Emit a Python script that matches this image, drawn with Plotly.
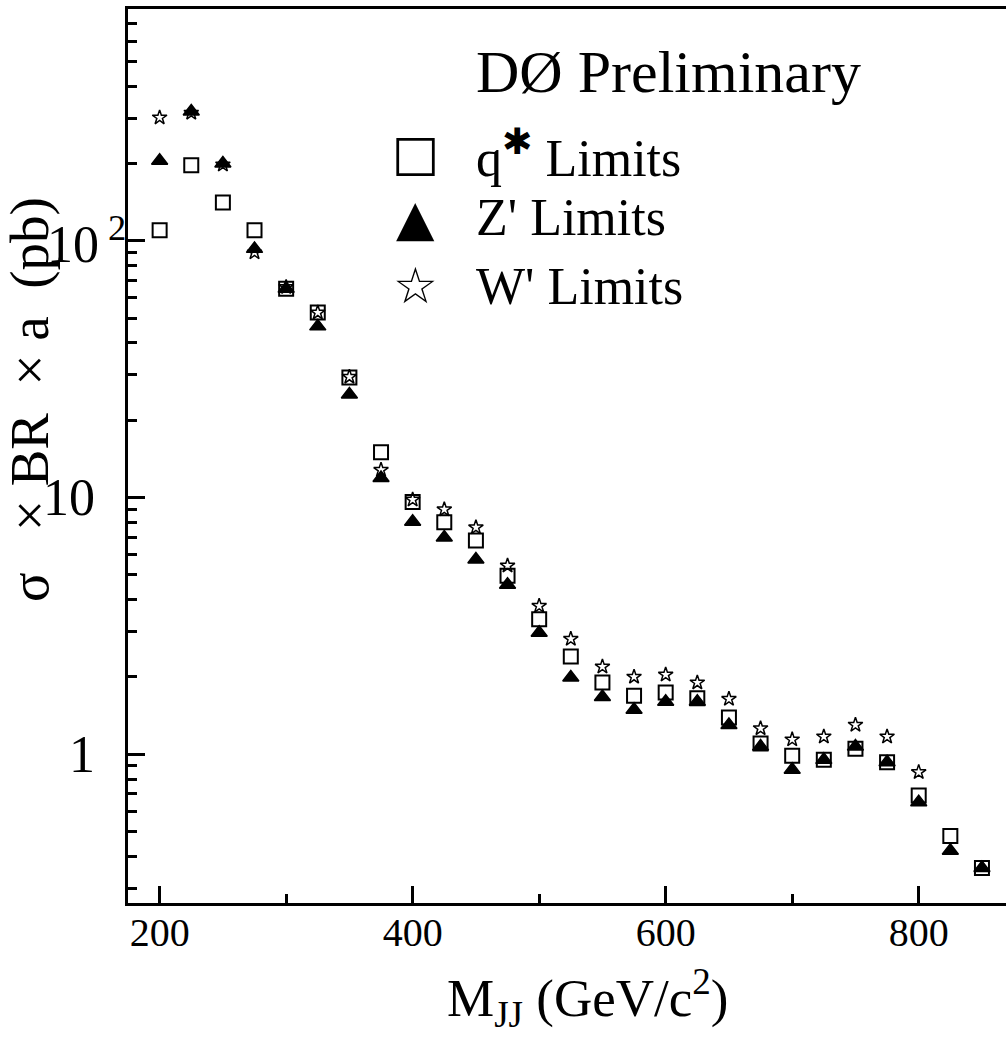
import math
import plotly.graph_objects as go

# Dijet invariant mass points (GeV/c^2)
mass = [200, 225, 250, 275, 300, 325, 350, 375, 400, 425, 450, 475, 500, 525,
        550, 575, 600, 625, 650, 675, 700, 725, 750, 775, 800, 825, 850]

# 95% CL limits on sigma x BR x acceptance (pb)
qstar_limits = [110, 197, 141, 110, 65, 52.5, 29.3, 15.0, 9.6, 8.0, 6.8, 4.95,
                3.35, 2.4, 1.9, 1.69, 1.74, 1.65, 1.39, 1.1, 0.985, 0.95, 1.05,
                0.93, 0.69, 0.48, 0.36]
zprime_limits = [205, 319, 200, 93, 65, 46.4, 25.2, 11.9, 8.05, 6.98, 5.73, 4.57,
                 2.97, 1.99, 1.67, 1.49, 1.6, 1.6, 1.3, 1.07, 0.87, 0.95, 1.07,
                 0.93, 0.65, 0.42, 0.36]
wprime_mass = mass[:25]
wprime_limits = [302, 315, 198, 90, 66, 52.5, 29.5, 12.8, 9.8, 8.98, 7.64, 5.42,
                 3.78, 2.81, 2.19, 2.0, 2.04, 1.9, 1.64, 1.26, 1.14, 1.17, 1.3,
                 1.17, 0.85]

y_major = [1, 10, 100]
y_major_text = ["1", "10", "10<sup>\u00A02</sup>"]
y_minor = [0.3, 0.4, 0.5, 0.6, 0.7, 0.8, 0.9,
           2, 3, 4, 5, 6, 7, 8, 9,
           20, 30, 40, 50, 60, 70, 80, 90,
           200, 300, 400, 500, 600, 700, 800]
x_major = [200, 400, 600, 800]
x_minor = [300, 500, 700]

STAR_SUP = "<sup><span style='font-family:DejaVu Sans'>\u2731</span></sup>"
legend_rows = [("\u25A1", "q" + STAR_SUP + " Limits"),
               ("\u25B2", "Z' Limits"),
               ("\u2606", "W' Limits")]

NB = "\u00A0"
y_title = ("\u03C3" + NB * 3 + "\u00D7" + NB + "BR" + NB * 2 + "\u00D7" + NB
           + "a" + NB * 2 + "(pb)")
x_title = "M<sub>JJ</sub> (GeV/c<sup>2</sup>)"

SERIF = "Liberation Serif"

fig = go.Figure()
fig.add_trace(go.Scatter(
    x=mass, y=qstar_limits, mode="markers", name="q* Limits",
    marker=dict(symbol="square-open", size=14, color="black",
                line=dict(width=2, color="black")),
))
fig.add_trace(go.Scatter(
    x=mass, y=zprime_limits, mode="markers", name="Z' Limits",
    marker=dict(symbol="triangle-up", size=14, color="black",
                line=dict(width=1.5, color="black")),
))
fig.add_trace(go.Scatter(
    x=wprime_mass, y=wprime_limits, mode="markers", name="W' Limits",
    marker=dict(symbol="star-open", size=11, color="black",
                line=dict(width=1.5, color="black")),
))

# plot-area geometry in pixels, used to place the text annotations
W, H = 1006, 1041
ML, MR, MT, MB = 128, 0, 9, 138
PW, PH = W - ML - MR, H - MT - MB


def px(xp):
    return (xp - ML) / PW


def py(yp):
    return (H - MB - yp) / PH


annotations = [
    dict(text="D\u00D8 Preliminary", x=px(474), y=py(72), xref="paper",
         yref="paper", xanchor="left", yanchor="middle", showarrow=False,
         font=dict(family=SERIF, size=60, color="black")),
]
row_y = [153, 218, 286]
for (glyph, label), yy in zip(legend_rows, row_y):
    annotations.append(dict(
        text=glyph, x=px(415), y=py(yy), xref="paper", yref="paper",
        xanchor="center", yanchor="middle", showarrow=False,
        font=dict(family="DejaVu Sans", size=50, color="black")))
    annotations.append(dict(
        text=label, x=px(474), y=py(yy), xref="paper", yref="paper",
        xanchor="left", yanchor="middle", showarrow=False,
        font=dict(family=SERIF, size=52, color="black")))

# y tick labels: digits right-aligned, the exponent of 10^2 hangs past them
for val, txt in zip(y_major, y_major_text):
    has_exp = "<sup>" in txt
    annotations.append(dict(
        text=txt, x=px(45) if has_exp else px(97), y=math.log10(val),
        xref="paper", yref="y", xanchor="left" if has_exp else "right",
        yanchor="middle", showarrow=False,
        font=dict(family=SERIF, size=52, color="black")))

annotations.append(dict(
    text=y_title, x=px(29), y=py(400),
    xref="paper", yref="paper", xanchor="center", yanchor="middle",
    textangle=-90, showarrow=False,
    font=dict(family=SERIF, size=55, color="black")))
annotations.append(dict(
    text=x_title, x=px(587), y=py(998),
    xref="paper", yref="paper", xanchor="center", yanchor="middle",
    showarrow=False, font=dict(family=SERIF, size=53, color="black")))

fig.update_layout(
    width=W, height=H,
    margin=dict(l=ML, r=MR, t=MT, b=MB, pad=0),
    paper_bgcolor="white", plot_bgcolor="white",
    showlegend=False,
    annotations=annotations,
    xaxis=dict(
        range=[175, 869], showgrid=False, zeroline=False,
        showline=True, linewidth=3, linecolor="black", mirror=True,
        ticks="inside", ticklen=17, tickwidth=3, tickcolor="black",
        tickmode="array", tickvals=x_major,
        ticktext=[str(v) for v in x_major],
        tickfont=dict(family=SERIF, size=40, color="black"),
        ticklabelstandoff=-8,
        minor=dict(tickmode="array", tickvals=x_minor, ticks="inside",
                   ticklen=9, tickwidth=3, tickcolor="black", showgrid=False),
    ),
    yaxis=dict(
        type="log", range=[-0.58, 2.903], showgrid=False, zeroline=False,
        showline=True, linewidth=3, linecolor="black", mirror=False,
        ticks="inside", ticklen=17, tickwidth=3, tickcolor="black",
        tickmode="array", tickvals=y_major, showticklabels=False,
        minor=dict(tickmode="array", tickvals=y_minor, ticks="inside",
                   ticklen=9, tickwidth=3, tickcolor="black", showgrid=False),
    ),
)

fig.write_html("out.html")
